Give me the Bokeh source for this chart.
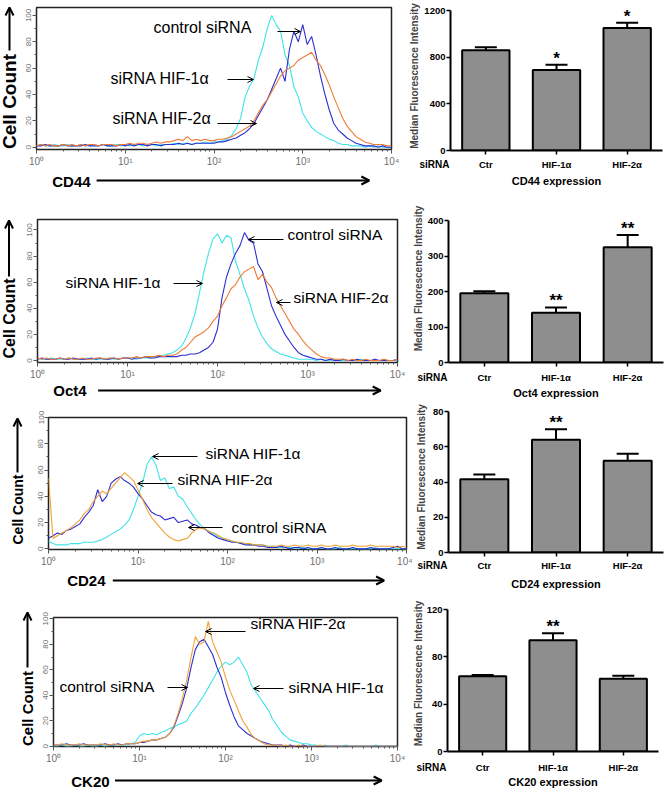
import math
from bokeh.plotting import figure
from bokeh.models import (Label, Arrow, OpenHead, TeeHead, Whisker, ColumnDataSource,
                          FixedTicker, Range1d)
from bokeh.layouts import column, row
from bokeh.embed import file_html
from bokeh.resources import INLINE

# ---------------- data ----------------
DECADES = [0.00, 0.05, 0.10, 0.15, 0.20, 0.25, 0.30, 0.35, 0.40, 0.45,
           0.50, 0.55, 0.60, 0.65, 0.70, 0.75, 0.80, 0.85, 0.90, 0.95,
           1.00, 1.05, 1.10, 1.15, 1.20, 1.25, 1.30, 1.35, 1.40, 1.45,
           1.50, 1.55, 1.60, 1.65, 1.70, 1.75, 1.80, 1.85, 1.90, 1.95,
           2.00, 2.05, 2.10, 2.15, 2.20, 2.25, 2.30, 2.35, 2.40, 2.45,
           2.50, 2.55, 2.60, 2.65, 2.70, 2.75, 2.80, 2.85, 2.90, 2.95,
           3.00, 3.05, 3.10, 3.15, 3.20, 3.25, 3.30, 3.35, 3.40, 3.45,
           3.50, 3.55, 3.60, 3.65, 3.70, 3.75, 3.80, 3.85, 3.90, 3.95,
           4.00]

CD44_HIF1 = [1, 2, 1, 1, 2, 1, 1, 2, 1, 1,
             2, 1, 1, 2, 1, 2, 1, 1, 2, 1,
             2, 1, 2, 2, 1, 2, 2, 1, 2, 2,
             2, 3, 2, 3, 3, 2, 3, 3, 4, 3,
             4, 4, 5, 6, 9, 14, 22, 38, 46, 52,
             66, 76, 90, 100, 93, 88, 70, 62, 46, 38,
             26, 20, 15, 12, 10, 8, 6, 5, 3, 2,
             2, 1, 1, 1, 0, 1, 0, 1, 0, 0,
             0]
CD44_CTRL = [1, 1, 2, 1, 1, 1, 2, 1, 1, 1,
             1, 2, 1, 1, 1, 2, 1, 1, 1, 2,
             1, 2, 1, 2, 2, 1, 2, 2, 1, 2,
             2, 2, 3, 2, 3, 2, 3, 3, 3, 3,
             3, 4, 4, 5, 6, 7, 9, 11, 14, 18,
             24, 30, 36, 44, 52, 60, 50, 74, 88, 80,
             93, 78, 84, 70, 54, 40, 28, 18, 13, 10,
             7, 5, 3, 2, 1, 1, 1, 0, 1, 0,
             0]
CD44_HIF2 = [1, 2, 1, 2, 1, 1, 2, 1, 2, 1,
             2, 1, 2, 2, 1, 2, 2, 2, 1, 2,
             2, 3, 2, 3, 3, 2, 3, 4, 3, 4,
             4, 5, 6, 5, 8, 5, 6, 5, 6, 5,
             5, 6, 6, 7, 8, 10, 12, 14, 16, 20,
             26, 32, 36, 42, 48, 54, 58, 60, 62, 66,
             68, 70, 72, 66, 62, 55, 47, 38, 30, 22,
             16, 12, 8, 6, 4, 3, 2, 2, 2, 1,
             1]

OCT4_HIF1 = [2, 1, 1, 2, 1, 1, 1, 2, 1, 1,
             1, 2, 1, 1, 1, 1, 2, 1, 1, 2,
             2, 2, 1, 2, 2, 2, 3, 3, 4, 5,
             6, 8, 11, 17, 25, 36, 52, 68, 82, 93,
             97, 90, 96, 94, 76, 66, 55, 46, 34, 25,
             18, 13, 9, 7, 5, 4, 3, 2, 1, 1,
             1, 1, 0, 1, 0, 0, 1, 0, 0, 0,
             0, 0, 1, 0, 0, 0, 0, 1, 0, 0,
             0]
OCT4_CTRL = [1, 2, 1, 1, 1, 2, 1, 1, 2, 1,
             1, 1, 2, 1, 2, 1, 1, 2, 1, 2,
             2, 1, 2, 2, 3, 2, 2, 3, 3, 3,
             3, 3, 4, 4, 5, 5, 6, 8, 10, 14,
             24, 48, 64, 74, 82, 88, 98, 92, 90, 74,
             68, 55, 42, 34, 27, 20, 15, 10, 6, 4,
             3, 2, 1, 1, 0, 1, 0, 0, 1, 0,
             0, 1, 0, 0, 0, 1, 0, 0, 0, 0,
             1]
OCT4_HIF2 = [2, 1, 2, 1, 1, 2, 1, 2, 1, 1,
             2, 1, 1, 2, 2, 1, 2, 2, 1, 2,
             2, 2, 3, 2, 3, 3, 3, 4, 3, 4,
             4, 5, 8, 10, 14, 18, 20, 22, 25, 30,
             34, 42, 48, 55, 58, 64, 68, 70, 72, 62,
             66, 60, 56, 48, 42, 36, 30, 24, 20, 15,
             11, 8, 5, 3, 2, 2, 1, 1, 1, 0,
             1, 0, 0, 1, 0, 0, 0, 1, 0, 0,
             1]

CD24_HIF1 = [6, 4, 3, 3, 3, 4, 4, 4, 5, 5,
             5, 6, 7, 9, 11, 13, 15, 18, 22, 30,
             40, 50, 64, 70, 64, 52, 54, 46, 47, 40,
             38, 32, 27, 22, 18, 15, 13, 11, 9, 8,
             7, 6, 5, 4, 4, 3, 3, 3, 3, 2,
             2, 2, 1, 1, 1, 1, 0, 1, 0, 0,
             0, 1, 0, 0, 0, 1, 0, 0, 0, 0,
             0, 0, 0, 1, 0, 0, 0, 0, 0, 0,
             0]
CD24_CTRL = [8, 10, 12, 11, 14, 15, 17, 19, 24, 28,
             33, 45, 36, 40, 50, 53, 55, 52, 50, 47,
             42, 38, 33, 28, 26, 25, 22, 23, 24, 20,
             21, 22, 19, 18, 16, 15, 12, 10, 8, 7,
             6, 5, 5, 4, 3, 3, 3, 2, 2, 1,
             1, 1, 2, 1, 0, 1, 1, 0, 1, 0,
             0, 1, 0, 0, 1, 0, 0, 0, 1, 0,
             0, 0, 1, 0, 0, 0, 0, 1, 2, 0,
             0]
CD24_HIF2 = [54, 8, 10, 12, 14, 16, 19, 22, 27, 30,
             36, 40, 44, 42, 46, 50, 54, 58, 55, 52,
             45, 38, 30, 24, 20, 16, 12, 9, 7, 6,
             7, 8, 12, 15, 16, 15, 13, 12, 10, 8,
             7, 6, 5, 5, 4, 4, 3, 3, 3, 2,
             2, 2, 3, 2, 2, 3, 2, 2, 3, 2,
             2, 3, 2, 2, 3, 2, 2, 2, 3, 2,
             2, 2, 3, 2, 2, 2, 2, 2, 1, 2,
             1]

CK20_HIF1 = [0, 0, 1, 0, 0, 1, 0, 0, 1, 0,
             0, 1, 0, 1, 1, 1, 1, 1, 2, 3,
             8, 10, 9, 10, 9, 11, 12, 14, 15, 17,
             18, 20, 26, 30, 35, 40, 46, 52, 58, 63,
             66, 64, 66, 70, 64, 58, 48, 43, 38, 33,
             28, 21, 16, 11, 8, 5, 4, 3, 2, 2,
             1, 1, 0, 1, 0, 0, 0, 0, 1, 0,
             0, 0, 0, 0, 0, 1, 0, 0, 0, 0,
             0]
CK20_CTRL = [1, 1, 1, 2, 1, 1, 1, 2, 1, 1,
             1, 1, 2, 1, 1, 2, 1, 2, 2, 2,
             3, 3, 4, 5, 5, 6, 7, 10, 15, 24,
             34, 46, 62, 76, 82, 84, 78, 72, 62, 54,
             42, 32, 23, 16, 13, 10, 8, 6, 4, 3,
             2, 1, 1, 1, 0, 1, 0, 0, 1, 0,
             0, 0, 0, 0, 0, 0, 0, 0, 0, 0,
             0, 0, 0, 0, 0, 0, 0, 0, 0, 0,
             0]
CK20_HIF2 = [1, 1, 2, 1, 1, 1, 2, 1, 1, 1,
             1, 2, 1, 1, 2, 1, 1, 2, 2, 2,
             3, 4, 4, 5, 5, 6, 7, 10, 16, 26,
             38, 52, 70, 86, 80, 82, 98, 82, 74, 66,
             54, 44, 36, 28, 20, 15, 9, 6, 4, 2,
             1, 1, 1, 0, 1, 0, 0, 1, 0, 0,
             0, 0, 1, 0, 0, 0, 0, 0, 0, 0,
             0, 0, 0, 0, 0, 0, 0, 0, 0, 0,
             0]

CATS = ["Ctr", "HIF-1α", "HIF-2α"]
CD44_MFI = [860, 690, 1050]
CD44_SEM = [25, 45, 45]
CD44_SIG = ["", "*", "*"]
OCT4_MFI = [195, 140, 325]
OCT4_SEM = [6, 15, 34]
OCT4_SIG = ["", "**", "**"]
CD24_MFI = [41.5, 64, 52]
CD24_SEM = [2.8, 6, 4]
CD24_SIG = ["", "**", ""]
CK20_MFI = [63.5, 94, 61.5]
CK20_SEM = [1.2, 6, 2.5]
CK20_SIG = ["", "**", ""]

CD44_TICKS = [0, 400, 800, 1200]
OCT4_TICKS = [0, 100, 200, 300, 400]
CD24_TICKS = [0, 20, 40, 60, 80]
CK20_TICKS = [0, 40, 80, 120]

# ---------------- styling / layout ----------------
FONT = "Liberation Sans"
W = 667
ROWS = [0, 192, 399, 593, 789]
CYAN = "#3fe3e8"
BLUE = "#2e2ed2"
ORANGE_A = "#ef7a35"
ORANGE_B = "#f0a236"


def strip(x0, x1, y0, y1):
    p = figure(width=x1 - x0, height=y1 - y0, x_range=Range1d(x0, x1), y_range=Range1d(y1, y0),
               x_axis_type=None, y_axis_type=None, output_backend="svg", toolbar_location=None,
               min_border_left=0, min_border_right=0, min_border_top=0, min_border_bottom=0)
    p.outline_line_color = None
    return p


def add_label(p, x, y, text, size, bold=False, angle=0.0, align="center"):
    p.add_layout(Label(x=x, y=y, text=text, angle=angle, text_align=align,
                       text_baseline="middle", text_font=FONT,
                       text_font_style="bold" if bold else "normal",
                       text_font_size=size, text_color="black"))


def add_arrow(p, x0, y0, x1, y1, lw, size):
    p.add_layout(Arrow(x_start=x0, y_start=y0, x_end=x1, y_end=y1, line_width=lw,
                       line_color="black",
                       end=OpenHead(size=size, line_width=lw, line_color="black")))


def build_row(i, split, cc_w, hframe, yr, curves, cc, cc_size, marker, mk, notes,
              mfi, sem, sig, ticks, bframe, bar_top, ylab_standoff, sirna_y,
              xlabel, xlabel_y):
    R0, R1 = ROWS[i], ROWS[i + 1]
    # ---- histogram ----
    fx0, fy0, fx1, fy1 = hframe
    hb = fy1 + 20
    hp = figure(width=split - cc_w, height=hb - R0, x_axis_type="log", x_range=(1, 1e4),
                y_range=yr, output_backend="svg", toolbar_location=None,
                min_border_left=fx0 - cc_w, min_border_right=split - fx1,
                min_border_top=fy0 - R0, min_border_bottom=20)
    xs = [10 ** d for d in DECADES]
    for vals, color in curves:
        hp.line(xs, vals, line_color=color, line_width=1.1)
    hp.xgrid.visible = False
    hp.ygrid.visible = False
    hp.outline_line_color = "#222222"
    hp.outline_line_width = 1.5
    ax = hp.xaxis[0]
    ax.ticker = FixedTicker(ticks=[1, 10, 100, 1000, 10000],
                            minor_ticks=[m * 10 ** e for e in range(4) for m in range(2, 10)])
    ax.major_label_overrides = {1: "10⁰", 10: "10¹", 100: "10²", 1000: "10³", 10000: "10⁴"}
    ax.major_label_text_font_size = "10px"
    ax.major_label_standoff = 2
    ay = hp.yaxis[0]
    ay.ticker = FixedTicker(ticks=[0, 20, 40, 60, 80, 100], minor_ticks=[10, 30, 50, 70, 90])
    ay.major_label_orientation = "vertical"
    ay.major_label_text_font_size = "8px"
    ay.major_label_standoff = 1
    for a in (ax, ay):
        a.axis_line_color = None
        a.major_label_text_font = FONT
        a.major_label_text_color = "#707070"
        a.major_tick_line_color = "#555555"
        a.minor_tick_line_color = "#555555"
        a.major_tick_in = 0
        a.minor_tick_in = 0
        a.major_tick_out = 4
        a.minor_tick_out = 2

    def hxy(rx, ry):
        return (10 ** (4 * (rx - fx0) / (fx1 - fx0)),
                yr[0] + (fy1 - ry) / (fy1 - fy0) * (yr[1] - yr[0]))

    for text, nx, ny, (bx0_, by0_, bx1_, by1_), fs in notes:
        lx, ly = hxy(nx, ny)
        add_label(hp, lx, ly, text, fs, align="left")
        s0 = hxy(bx0_, by0_)
        s1 = hxy(bx1_, by1_)
        add_arrow(hp, s0[0], s0[1], s1[0], s1[1], 1, 6)

    # "Cell Count" strip: full row height, left of the histogram column
    ccp = strip(0, cc_w, R0, R1)
    cx, cy, a0, a1 = cc
    add_label(ccp, cx, cy, "Cell Count", cc_size, bold=True, angle=math.pi / 2)
    add_arrow(ccp, cx, a0, cx, a1, 2, 8)

    # marker strip under the histogram
    xlp = strip(cc_w, split, hb, R1)
    tx, ty, ax0, ax1, ay0 = mk
    add_label(xlp, tx, ty, marker, "15px", bold=True, align="left")
    add_arrow(xlp, ax0, ay0, ax1, ay0, 2, 8)

    # ---- bar chart ----
    bx0, by0, bx1, by1 = bframe
    ymax = ticks[-1]
    bb = by1 + 6
    bp = figure(width=W - split, height=bb - R0, x_range=CATS,
                y_range=Range1d(0, ymax * (by1 - bar_top) / (by1 - by0)),
                output_backend="svg", toolbar_location=None,
                min_border_left=bx0 - split, min_border_right=W - bx1,
                min_border_top=bar_top - R0, min_border_bottom=6)
    upper = [m + s for m, s in zip(mfi, sem)]
    lower = [m - s for m, s in zip(mfi, sem)]
    src = ColumnDataSource(dict(cat=CATS, mfi=mfi, upper=upper, lower=lower))
    bp.vbar(x="cat", top="mfi", width=0.67, source=src, fill_color="#8e8e8e",
            line_color="black", line_width=2)
    bp.add_layout(Whisker(source=src, base="cat", upper="upper", lower="lower",
                          line_width=2, line_color="black",
                          upper_head=TeeHead(size=22, line_width=2, line_color="black"),
                          lower_head=TeeHead(size=22, line_width=2, line_color="black")))
    bp.xgrid.visible = False
    bp.ygrid.visible = False
    bp.outline_line_color = None
    byax = bp.yaxis[0]
    bxax = bp.xaxis[0]
    byax.ticker = FixedTicker(ticks=ticks)
    byax.bounds = (0, ymax)
    for a in (bxax, byax):
        a.axis_line_width = 2
        a.axis_line_color = "black"
        a.major_tick_line_width = 1.5
        a.major_tick_line_color = "black"
        a.major_tick_out = 4
        a.major_tick_in = 0
        a.minor_tick_line_color = None
        a.major_label_text_font = FONT
        a.major_label_text_font_style = "bold"
        a.major_label_text_color = "black"
    byax.major_label_text_font_size = "9.5px"
    byax.major_label_standoff = 1
    byax.axis_label = "Median Fluorescence Intensity"
    byax.axis_label_text_font = FONT
    byax.axis_label_text_font_style = "bold"
    byax.axis_label_text_font_size = "10px"
    byax.axis_label_standoff = ylab_standoff
    # category names are written in the strip below (aligned with "siRNA")
    bxax.major_label_text_color = None
    bxax.major_label_text_font_size = "1px"
    bxax.major_label_standoff = 0

    px_unit = ymax / (by1 - by0)
    for k, s in enumerate(sig):
        if s:
            bp.add_layout(Label(x=k + 0.5, y=upper[k] + 6.6 * px_unit, text=s,
                                text_align="center", text_baseline="alphabetic",
                                text_font=FONT, text_font_style="bold",
                                text_font_size="17px", text_color="black"))

    # strip under the bars: same horizontal frame as the bar chart
    sp = figure(width=W - split, height=R1 - bb, x_range=bp.x_range, y_range=Range1d(R1, bb),
                x_axis_location=None, output_backend="svg", toolbar_location=None,
                min_border_left=bx0 - split, min_border_right=W - bx1,
                min_border_top=0, min_border_bottom=0)
    sp.outline_line_color = None
    sp.xgrid.visible = False
    sp.ygrid.visible = False
    say = sp.yaxis[0]
    say.ticker = FixedTicker(ticks=[sirna_y])
    say.major_label_overrides = {sirna_y: "siRNA"}
    say.axis_line_color = None
    say.major_tick_line_color = None
    say.minor_tick_line_color = None
    say.major_tick_out = 0
    say.major_tick_in = 0
    say.minor_tick_out = 0
    say.major_label_standoff = 1
    say.major_label_text_font = FONT
    say.major_label_text_font_style = "bold"
    say.major_label_text_font_size = "10px"
    say.major_label_text_color = "black"
    for k, c in enumerate(CATS):
        add_label(sp, k + 0.5, sirna_y, c, "9.5px", bold=True)
    add_label(sp, len(CATS) / 2, xlabel_y, xlabel, "11px", bold=True)

    return row(ccp, column(hp, xlp), column(bp, sp))


r1 = build_row(0, 404, 20, (36, 7, 391, 149), (-1.75, 106),
               [(CD44_HIF1, CYAN), (CD44_CTRL, BLUE), (CD44_HIF2, ORANGE_A)],
               (9, 101, 50, 7), "19px", "CD44", (37, 181, 85, 380, 180),
               [("control siRNA", 153, 27, (277, 31, 300, 31), "16px"),
                ("siRNA HIF-1α", 110, 78, (227, 79, 253, 79), "16px"),
                ("siRNA HIF-2α", 112, 118, (217, 123, 256, 123), "16px")],
               CD44_MFI, CD44_SEM, CD44_SIG, CD44_TICKS, (450, 10, 662, 150), 1, 1,
               164, "CD44 expression", 180)

r2 = build_row(1, 406, 20, (37, 219, 397, 362), (-1.5, 108),
               [(OCT4_HIF1, CYAN), (OCT4_CTRL, BLUE), (OCT4_HIF2, ORANGE_A)],
               (8.5, 318, 276, 220), "16px", "Oct4", (37, 390, 85, 388, 390),
               [("control siRNA", 287, 234, (283, 239, 248, 239), "15.5px"),
                ("siRNA HIF-1α", 65, 282, (173, 283, 202, 283), "15.5px"),
                ("siRNA HIF-2α", 293, 297, (290, 302, 276, 302), "15.5px")],
               OCT4_MFI, OCT4_SEM, OCT4_SIG, OCT4_TICKS, (448, 220, 663, 362), 194, 1,
               377, "Oct4 expression", 392)

r3 = build_row(2, 412, 28, (48, 417, 406, 549), (-0.5, 100),
               [(CD24_HIF1, CYAN), (CD24_CTRL, BLUE), (CD24_HIF2, ORANGE_B)],
               (17, 509, 472, 418), "14px", "CD24", (48, 580, 97, 388, 580),
               [("siRNA HIF-1α", 205, 453, (197, 456, 152, 456), "15.5px"),
                ("siRNA HIF-2α", 177, 479, (172, 483, 137, 483), "15.5px"),
                ("control siRNA", 231, 527, (222, 527, 188, 527), "15.5px")],
               CD24_MFI, CD24_SEM, CD24_SIG, CD24_TICKS, (445, 411, 663, 552), 401, 3,
               565, "CD24 expression", 583)

r4 = build_row(3, 405, 36, (53, 617, 397, 746), (-0.2, 101),
               [(CK20_HIF1, CYAN), (CK20_CTRL, BLUE), (CK20_HIF2, ORANGE_B)],
               (27, 708, 667, 612), "15px", "CK20", (55, 781, 102, 388, 780),
               [("siRNA HIF-2α", 250, 623, (245, 631, 205, 631), "15.5px"),
                ("control siRNA", 59, 686, (167, 687, 187, 687), "15.5px"),
                ("siRNA HIF-1α", 288, 687, (283, 688, 253, 688), "15.5px")],
               CK20_MFI, CK20_SEM, CK20_SIG, CK20_TICKS, (447, 609, 658, 751), 595, 0,
               767, "CK20 expression", 781)

page = column(r1, r2, r3, r4)
open("out.html", "w").write(file_html(page, INLINE))
